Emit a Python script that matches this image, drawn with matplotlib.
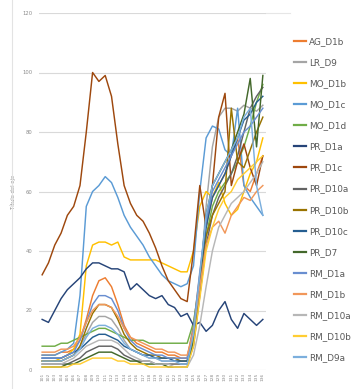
import matplotlib
matplotlib.use("Agg")
import matplotlib.pyplot as plt
from matplotlib.lines import Line2D

# sample labels along the category axis
labels = ["%03d" % k for k in range(101, 137)]

names = ["AG_D1b", "LR_D9", "MO_D1b", "MO_D1c", "MO_D1d", "PR_D1a", "PR_D1c",
         "PR_D10a", "PR_D10b", "PR_D10c", "PR_D7", "RM_D1a", "RM_D1b",
         "RM_D10a", "RM_D10b", "RM_D9a"]

colors = ["#ED7D31", "#A5A5A5", "#FFC000", "#5B9BD5", "#70AD47", "#264478",
          "#9E480E", "#636363", "#997300", "#255E91", "#43682B", "#698ED0",
          "#F1975A", "#B7B7B7", "#FFCD33", "#7CAFDD"]

AG_D1b = [5, 5, 5, 6, 6, 7, 10, 17, 25, 30, 31, 28, 22, 15, 11, 9, 8, 7, 6, 6, 5, 5, 4, 4,
          15, 32, 48, 58, 62, 66, 72, 78, 62, 60, 66, 72]
LR_D9 = [3, 3, 3, 3, 4, 5, 8, 12, 16, 18, 18, 17, 14, 10, 7, 6, 5, 4, 4, 3, 3, 3, 3, 3,
         10, 28, 55, 75, 85, 88, 88, 87, 89, 88, 87, 89]
MO_D1b = [3, 3, 3, 4, 5, 7, 12, 35, 42, 43, 43, 42, 43, 38, 37, 37, 37, 37, 37, 36, 35, 34, 33, 33,
          40, 55, 60, 58, 63, 56, 52, 54, 60, 66, 70, 78]
MO_D1c = [5, 5, 5, 6, 7, 9, 25, 55, 60, 62, 65, 63, 58, 52, 48, 45, 42, 38, 35, 32, 30, 29, 28, 29,
          35, 60, 78, 82, 81, 74, 72, 88, 62, 58, 55, 52]
MO_D1d = [8, 8, 8, 9, 9, 10, 11, 12, 13, 14, 14, 13, 12, 11, 10, 10, 10, 9, 9, 9, 9, 9, 9, 9,
          16, 30, 45, 55, 60, 63, 66, 70, 75, 82, 90, 96]
PR_D1a = [17, 16, 20, 24, 27, 29, 31, 34, 36, 36, 35, 34, 34, 33, 27, 29, 27, 25, 24, 25, 22, 21, 18, 19,
          15, 16, 13, 15, 20, 23, 17, 14, 19, 17, 15, 17]
PR_D1c = [32, 36, 42, 46, 52, 55, 62, 80, 100, 97, 99, 92, 76, 62, 56, 52, 50, 46, 41, 35, 30, 27, 24, 23,
          40, 62, 48, 62, 85, 93, 62, 70, 76, 68, 62, 72]
PR_D10a = [2, 2, 2, 2, 2, 3, 4, 6, 7, 8, 8, 8, 7, 5, 4, 3, 3, 3, 2, 2, 2, 2, 2, 2,
           8, 25, 42, 52, 58, 62, 66, 72, 80, 88, 92, 95]
PR_D10b = [3, 3, 3, 3, 4, 5, 8, 14, 19, 22, 22, 21, 17, 12, 9, 7, 6, 5, 5, 4, 4, 4, 3, 3,
           12, 30, 45, 52, 56, 60, 88, 70, 68, 74, 80, 85]
PR_D10c = [4, 4, 4, 4, 5, 6, 7, 9, 11, 12, 12, 11, 10, 8, 7, 6, 5, 5, 4, 4, 4, 3, 3, 3,
           12, 30, 48, 58, 62, 66, 72, 78, 84, 86, 90, 92]
PR_D7 = [1, 1, 1, 1, 2, 2, 3, 4, 5, 6, 6, 6, 5, 4, 3, 3, 2, 2, 2, 2, 1, 1, 1, 1,
         10, 30, 52, 62, 66, 70, 74, 80, 86, 98, 75, 99]
RM_D1a = [4, 4, 4, 4, 5, 6, 10, 16, 22, 25, 25, 24, 20, 14, 10, 8, 7, 6, 5, 5, 4, 4, 4, 4,
          14, 33, 50, 60, 64, 68, 72, 76, 80, 82, 85, 88]
RM_D1b = [6, 6, 6, 7, 7, 8, 11, 16, 20, 22, 22, 21, 18, 14, 11, 10, 9, 8, 7, 7, 6, 6, 5, 5,
          13, 28, 42, 48, 50, 46, 52, 55, 58, 57, 60, 62]
RM_D10a = [2, 2, 2, 2, 3, 4, 6, 8, 9, 10, 10, 10, 9, 7, 5, 4, 3, 3, 2, 2, 2, 1, 1, 1,
           5, 15, 28, 40, 48, 52, 56, 58, 60, 63, 66, 70]
RM_D10b = [1, 1, 1, 1, 1, 2, 2, 3, 4, 4, 4, 4, 3, 3, 2, 2, 2, 1, 1, 1, 1, 1, 1, 1,
           8, 24, 40, 48, 54, 58, 60, 64, 66, 68, 70, 72]
RM_D9a = [3, 3, 3, 3, 4, 5, 7, 11, 14, 15, 15, 14, 12, 9, 7, 6, 5, 4, 4, 3, 3, 3, 2, 2,
          12, 32, 52, 62, 66, 70, 74, 78, 85, 88, 62, 52]

series = [AG_D1b, LR_D9, MO_D1b, MO_D1c, MO_D1d, PR_D1a, PR_D1c, PR_D10a, PR_D10b,
          PR_D10c, PR_D7, RM_D1a, RM_D1b, RM_D10a, RM_D10b, RM_D9a]

W, H = 351, 389
fig = plt.figure(figsize=(W / 100, H / 100), dpi=100)
ax = fig.add_axes([39 / W, 1 - 370 / H, 227 / W, 357 / H])

x = list(range(len(labels)))
handles = []
for name, col, vals in zip(names, colors, series):
    h, = ax.plot(x, vals, color=col, lw=1.05, label=name, solid_joinstyle="round")
    handles.append(h)

ax.set_xlim(-0.5, len(labels) - 0.5)
ax.set_ylim(0, 120)
ax.set_yticks(range(0, 121, 20))
ax.set_xticks(x)
ax.set_xticklabels(labels, rotation=90, fontsize=3.2, color="#8C8C8C")
ax.tick_params(axis="y", labelsize=3.8, colors="#8C8C8C", length=0, pad=5)
ax.tick_params(axis="x", length=0, pad=2)
ax.grid(axis="y", color="#D9D9D9", lw=0.8)
ax.set_axisbelow(True)
for s in ax.spines.values():
    s.set_visible(False)
ax.set_ylabel("Título del eje", fontsize=3.8, color="#8C8C8C", labelpad=4)

# outer edge of the chart area and the top rule running into the legend
fig.add_artist(Line2D([12 / W, 12 / W], [0, 1], color="#E3E3E3", lw=0.8))
fig.add_artist(Line2D([266 / W, 290 / W], [1 - 13 / H, 1 - 13 / H], color="#E6E6E6", lw=0.8))

leg = fig.legend(handles=handles, loc="upper left", bbox_to_anchor=(294 / W, 1 - 37 / H),
                 frameon=False, fontsize=6.4, labelcolor="#595959", handlelength=1.4,
                 handletextpad=0.3, labelspacing=1.36, borderaxespad=0, borderpad=0)
for ln in leg.get_lines():
    ln.set_linewidth(1.6)

fig.savefig("out.png", dpi=100)
